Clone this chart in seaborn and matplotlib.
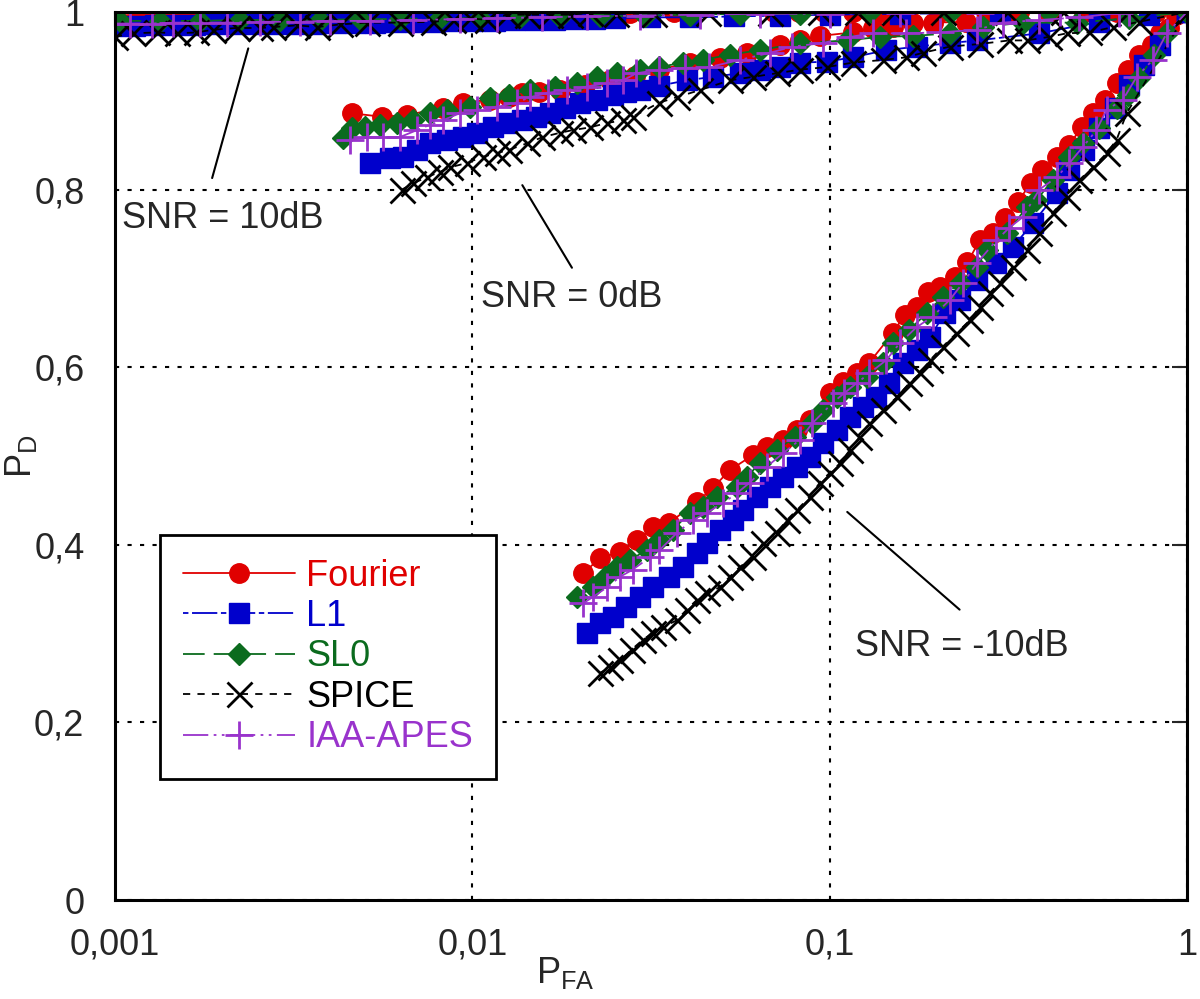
import matplotlib
matplotlib.use("Agg")
import matplotlib.pyplot as plt
from matplotlib.lines import Line2D
import pandas as pd
import seaborn as sns

# ---- data (PFA, PD) ----
# SNR = -10 dB
fourier_m10_pfa = [0.0204, 0.0228, 0.0259, 0.0289, 0.0320, 0.0356, 0.0425, 0.0471, 0.0525, 0.0610,
                   0.0667, 0.0740, 0.0809, 0.0879, 0.100, 0.109, 0.119, 0.129, 0.150, 0.162, 0.175,
                   0.188, 0.203, 0.224, 0.243, 0.263, 0.286, 0.310, 0.336, 0.365, 0.394, 0.432,
                   0.467, 0.507, 0.545, 0.588, 0.635, 0.683, 0.736, 0.796, 0.838, 0.893, 0.933, 1.0]
fourier_m10_pd = [0.368, 0.385, 0.392, 0.405, 0.420, 0.425, 0.448, 0.464, 0.484, 0.501,
                  0.510, 0.518, 0.529, 0.541, 0.571, 0.583, 0.593, 0.605, 0.638, 0.659, 0.668,
                  0.685, 0.690, 0.702, 0.718, 0.743, 0.751, 0.768, 0.786, 0.807, 0.822, 0.837,
                  0.850, 0.870, 0.886, 0.901, 0.920, 0.935, 0.952, 0.963, 0.976, 0.982, 0.997, 1.0]
l1_m10_pfa = [0.0209, 0.0228, 0.0247, 0.0270, 0.0294, 0.0320, 0.0356, 0.0388, 0.0425, 0.0453,
              0.0492, 0.0536, 0.0571, 0.0625, 0.0679, 0.0740, 0.0809, 0.0879, 0.0955, 0.105,
              0.114, 0.124, 0.135, 0.147, 0.160, 0.175, 0.191, 0.210, 0.231, 0.259, 0.293,
              0.325, 0.370, 0.432, 0.469, 0.516, 0.569, 0.627, 0.690, 0.760, 0.838, 1.0]
l1_m10_pd = [0.301, 0.312, 0.319, 0.330, 0.341, 0.352, 0.364, 0.375, 0.391, 0.402,
             0.417, 0.428, 0.439, 0.454, 0.465, 0.476, 0.488, 0.499, 0.515, 0.529,
             0.544, 0.555, 0.566, 0.582, 0.605, 0.619, 0.634, 0.661, 0.676, 0.698, 0.717,
             0.735, 0.762, 0.796, 0.822, 0.845, 0.869, 0.892, 0.918, 0.940, 0.963, 1.0]
sl0_m10_pfa = [0.0196, 0.0217, 0.0235, 0.0254, 0.0276, 0.0308, 0.0334, 0.0364, 0.0406, 0.0442,
               0.0483, 0.0550, 0.0586, 0.0637, 0.0711, 0.0798, 0.0895, 0.0955, 0.105, 0.114,
               0.127, 0.141, 0.150, 0.167, 0.187, 0.207, 0.231, 0.258, 0.275, 0.313, 0.356,
               0.379, 0.421, 0.469, 0.511, 0.569, 0.635, 0.683, 0.736, 0.811, 0.881, 1.0]
sl0_m10_pd = [0.341, 0.352, 0.364, 0.375, 0.383, 0.394, 0.405, 0.417, 0.436, 0.443,
              0.454, 0.465, 0.476, 0.492, 0.507, 0.521, 0.537, 0.552, 0.566, 0.578,
              0.589, 0.605, 0.627, 0.642, 0.661, 0.679, 0.695, 0.713, 0.732, 0.751, 0.780,
              0.788, 0.811, 0.837, 0.852, 0.869, 0.892, 0.907, 0.926, 0.952, 0.976, 1.0]
spice_m10_pfa = [0.0228, 0.0243, 0.0259, 0.0279, 0.0300, 0.0320, 0.0341, 0.0373, 0.0398, 0.0425,
                 0.0453, 0.0492, 0.0525, 0.0560, 0.0610, 0.0650, 0.0711, 0.0759, 0.0809, 0.0879,
                 0.0938, 0.100, 0.107, 0.114, 0.121, 0.129, 0.141, 0.154, 0.167, 0.179, 0.191,
                 0.207, 0.226, 0.247, 0.263, 0.281, 0.299, 0.325, 0.356, 0.386, 0.421, 0.461,
                 0.500, 0.545, 0.596, 0.635, 0.678, 1.0]
spice_m10_pd = [0.256, 0.262, 0.270, 0.282, 0.293, 0.301, 0.307, 0.315, 0.327, 0.338,
                0.346, 0.352, 0.364, 0.375, 0.386, 0.402, 0.413, 0.428, 0.439, 0.454,
                0.470, 0.481, 0.492, 0.507, 0.521, 0.537, 0.552, 0.566, 0.582, 0.593, 0.608,
                0.623, 0.638, 0.653, 0.668, 0.684, 0.695, 0.713, 0.732, 0.751, 0.774, 0.792,
                0.811, 0.825, 0.841, 0.856, 0.886, 1.0]
iaa_m10_pfa = [0.0204, 0.0217, 0.0238, 0.0259, 0.0281, 0.0314, 0.0334, 0.0373, 0.0414, 0.0453,
               0.0502, 0.0550, 0.0597, 0.0667, 0.0740, 0.0824, 0.0895, 0.102, 0.110, 0.119,
               0.129, 0.144, 0.157, 0.175, 0.194, 0.217, 0.236, 0.258, 0.293, 0.318, 0.347,
               0.386, 0.432, 0.469, 0.511, 0.558, 0.596, 0.661, 0.723, 0.802, 0.877, 1.0]
iaa_m10_pd = [0.334, 0.341, 0.352, 0.364, 0.372, 0.386, 0.394, 0.413, 0.428, 0.436,
              0.447, 0.458, 0.470, 0.488, 0.503, 0.518, 0.537, 0.560, 0.571, 0.582,
              0.593, 0.608, 0.627, 0.645, 0.657, 0.676, 0.695, 0.717, 0.743, 0.757, 0.769,
              0.800, 0.814, 0.830, 0.848, 0.867, 0.890, 0.901, 0.927, 0.946, 0.976, 1.0]

# SNR = 0 dB
fourier_0_pfa = [0.00460, 0.00558, 0.00656, 0.00826, 0.00940, 0.0112, 0.0127, 0.0138, 0.0154,
                 0.0176, 0.0207, 0.0243, 0.0285, 0.0334, 0.0406, 0.0492, 0.0586, 0.0724, 0.0824,
                 0.0938, 0.116, 0.132, 0.150, 0.171, 0.194, 0.241, 0.275, 0.325, 0.412, 1.0]
fourier_0_pd = [0.886, 0.882, 0.884, 0.892, 0.898, 0.901, 0.904, 0.909, 0.910,
                0.912, 0.918, 0.923, 0.928, 0.935, 0.943, 0.948, 0.954, 0.963, 0.968,
                0.973, 0.977, 0.982, 0.983, 0.988, 0.988, 0.989, 0.994, 0.998, 1.0, 1.0]
l1_0_pfa = [0.00516, 0.00587, 0.00639, 0.00700, 0.00761, 0.00849, 0.00940, 0.0103, 0.0114,
            0.0125, 0.0138, 0.0151, 0.0165, 0.0182, 0.0200, 0.0223, 0.0247, 0.0270, 0.0294,
            0.0334, 0.0398, 0.0471, 0.0560, 0.0637, 0.0724, 0.0824, 0.0982, 0.116, 0.144,
            0.175, 0.217, 0.259, 0.386, 0.569, 0.785, 1.0]
l1_0_pd = [0.830, 0.836, 0.837, 0.845, 0.852, 0.856, 0.859, 0.864, 0.870,
           0.875, 0.878, 0.882, 0.886, 0.892, 0.898, 0.901, 0.907, 0.910, 0.912,
           0.917, 0.923, 0.927, 0.931, 0.935, 0.938, 0.943, 0.944, 0.949, 0.957,
           0.961, 0.965, 0.968, 0.976, 0.989, 0.997, 1.0]
sl0_0_pfa = [0.00435, 0.00460, 0.00500, 0.00551, 0.00615, 0.00682, 0.00761, 0.00849, 0.00984,
             0.0112, 0.0127, 0.0145, 0.0170, 0.0196, 0.0223, 0.0254, 0.0294, 0.0334, 0.0388,
             0.0442, 0.0525, 0.0637, 0.0824, 0.112, 0.138, 0.171, 0.217, 0.268, 0.347, 0.491,
             0.690, 1.0]
sl0_0_pd = [0.858, 0.869, 0.870, 0.873, 0.875, 0.878, 0.886, 0.890, 0.893,
            0.903, 0.907, 0.912, 0.916, 0.920, 0.927, 0.931, 0.935, 0.938, 0.943,
            0.946, 0.952, 0.957, 0.965, 0.968, 0.972, 0.973, 0.976, 0.983, 0.988, 0.988,
            0.993, 1.0]
spice_0_pfa = [0.00635, 0.00682, 0.00747, 0.00811, 0.00865, 0.00966, 0.0107, 0.0117, 0.0127,
               0.0142, 0.0157, 0.0176, 0.0191, 0.0213, 0.0238, 0.0264, 0.0281, 0.0334, 0.0373,
               0.0433, 0.0525, 0.0610, 0.0711, 0.0824, 0.0982, 0.116, 0.141, 0.164, 0.182,
               0.217, 0.263, 0.318, 0.356, 0.412, 0.461, 0.533, 0.620, 0.736, 1.0]
spice_0_pd = [0.800, 0.807, 0.814, 0.820, 0.825, 0.830, 0.837, 0.841, 0.845,
              0.852, 0.859, 0.864, 0.867, 0.870, 0.875, 0.878, 0.882, 0.898, 0.904,
              0.912, 0.923, 0.927, 0.931, 0.935, 0.938, 0.943, 0.946, 0.949, 0.954,
              0.961, 0.964, 0.968, 0.968, 0.972, 0.976, 0.977, 0.983, 0.989, 1.0]
iaa_0_pfa = [0.00454, 0.00507, 0.00562, 0.00626, 0.00700, 0.00761, 0.00826, 0.00923, 0.0103,
             0.0117, 0.0133, 0.0145, 0.0163, 0.0184, 0.0209, 0.0238, 0.0264, 0.0288, 0.0334,
             0.0393, 0.0461, 0.0560, 0.0679, 0.0787, 0.0955, 0.114, 0.132, 0.164, 0.203,
             0.258, 0.305, 0.386, 0.500, 0.647, 1.0]
iaa_0_pd = [0.856, 0.859, 0.859, 0.859, 0.867, 0.873, 0.878, 0.886, 0.890,
            0.893, 0.898, 0.904, 0.909, 0.912, 0.916, 0.920, 0.923, 0.931, 0.935,
            0.937, 0.938, 0.946, 0.954, 0.961, 0.965, 0.972, 0.976, 0.976, 0.977,
            0.980, 0.988, 0.991, 0.994, 0.999, 1.0]

# SNR = 10 dB
fourier_10_pfa = [0.00100, 0.00117, 0.00152, 0.00191, 0.00255, 0.00329, 0.00440, 0.00587, 0.00811,
                  0.0112, 0.0155, 0.0194, 0.0276, 0.0367, 0.0550, 0.0697, 0.0819, 0.0962, 0.116,
                  0.140, 0.203, 0.273, 0.338, 0.516, 0.639, 0.817, 1.0]
fourier_10_pd = [0.996, 0.997, 0.997, 0.997, 0.997, 0.998, 0.998, 0.998, 0.998,
                 0.999, 0.999, 0.999, 0.999, 1.0, 1.0, 1.0, 1.0, 1.0, 1.0,
                 1.0, 1.0, 1.0, 1.0, 1.0, 1.0, 1.0, 1.0]
l1_10_pfa = [0.00100, 0.00114, 0.00129, 0.00147, 0.00167, 0.00191, 0.00217, 0.00247, 0.00281,
             0.00319, 0.00363, 0.00412, 0.00469, 0.00533, 0.00607, 0.00690, 0.00785, 0.00893,
             0.0102, 0.0116, 0.0132, 0.0150, 0.0170, 0.0194, 0.0220, 0.0251, 0.0314, 0.0406,
             0.0541, 0.0724, 0.100, 0.157, 0.299, 0.569, 1.0]
l1_10_pd = [0.984, 0.984, 0.985, 0.985, 0.985, 0.986, 0.986, 0.986, 0.987,
            0.987, 0.987, 0.988, 0.988, 0.988, 0.989, 0.989, 0.989, 0.990,
            0.990, 0.990, 0.991, 0.991, 0.991, 0.992, 0.992, 0.993, 0.994, 0.994,
            0.995, 0.996, 0.997, 0.998, 0.999, 1.0, 1.0]
sl0_10_pfa = [0.00103, 0.00134, 0.00173, 0.00224, 0.00290, 0.00374, 0.00484, 0.00626, 0.00811,
              0.0105, 0.0136, 0.0176, 0.0228, 0.0304, 0.0406, 0.0560, 0.0824, 0.129, 0.217,
              0.412, 1.0]
sl0_10_pd = [0.990, 0.990, 0.990, 0.991, 0.991, 0.991, 0.992, 0.992, 0.993,
             0.993, 0.994, 0.994, 0.995, 0.996, 0.997, 0.998, 0.998, 0.999, 0.999,
             1.0, 1.0]
spice_10_pfa = [0.00100, 0.00112, 0.00131, 0.00149, 0.00169, 0.00188, 0.00219, 0.00255, 0.00277,
                0.00323, 0.00367, 0.00426, 0.00507, 0.00626, 0.00776, 0.00882, 0.00984, 0.0110,
                0.0125, 0.0142, 0.0165, 0.0188, 0.0213, 0.0252, 0.0322, 0.0456, 0.0679, 0.0938,
                0.119, 0.151, 0.207, 0.313, 0.449, 1.0]
spice_10_pd = [0.972, 0.976, 0.977, 0.976, 0.977, 0.980, 0.982, 0.982, 0.983,
               0.985, 0.983, 0.986, 0.988, 0.988, 0.989, 0.991, 0.993, 0.991,
               0.997, 0.997, 0.997, 0.997, 0.999, 0.998, 0.998, 0.999, 0.999, 1.0,
               1.0, 1.0, 1.0, 1.0, 1.0, 1.0]
iaa_10_pfa = [0.00100, 0.00110, 0.00127, 0.00145, 0.00173, 0.00206, 0.00255, 0.00329, 0.00399,
              0.00516, 0.00682, 0.00923, 0.0117, 0.0157, 0.0209, 0.0294, 0.0433, 0.0637, 0.100,
              0.157, 0.263, 0.440, 0.690, 1.0]
iaa_10_pd = [0.987, 0.987, 0.987, 0.988, 0.988, 0.988, 0.989, 0.989, 0.990,
             0.990, 0.991, 0.992, 0.993, 0.994, 0.995, 0.996, 0.997, 0.998, 0.998,
             0.999, 0.999, 1.0, 1.0, 1.0]

methods = ["Fourier", "L1", "SL0", "SPICE", "IAA-APES"]
curves = {
    "Fourier": [(fourier_m10_pfa, fourier_m10_pd), (fourier_0_pfa, fourier_0_pd), (fourier_10_pfa, fourier_10_pd)],
    "L1": [(l1_m10_pfa, l1_m10_pd), (l1_0_pfa, l1_0_pd), (l1_10_pfa, l1_10_pd)],
    "SL0": [(sl0_m10_pfa, sl0_m10_pd), (sl0_0_pfa, sl0_0_pd), (sl0_10_pfa, sl0_10_pd)],
    "SPICE": [(spice_m10_pfa, spice_m10_pd), (spice_0_pfa, spice_0_pd), (spice_10_pfa, spice_10_pd)],
    "IAA-APES": [(iaa_m10_pfa, iaa_m10_pd), (iaa_0_pfa, iaa_0_pd), (iaa_10_pfa, iaa_10_pd)],
}
snr_names = ["-10dB", "0dB", "10dB"]

# styles
styles = {
    "Fourier": dict(color="#E00000", marker="o", ms=14, ls="-", mew=1.0),
    "L1": dict(color="#0000CC", marker="s", ms=14, ls=(0, (3, 2, 14, 2)), mew=1.0),
    "SL0": dict(color="#0B6B1E", marker="D", ms=11, ls=(0, (12, 5)), mew=1.0),
    "SPICE": dict(color="black", marker="x", ms=18, ls=(0, (4, 4)), mew=2.0),
    "IAA-APES": dict(color="#9933CC", marker="+", ms=20, ls=(0, (14, 3, 1.5, 3, 1.5, 3)), mew=2.0),
}

sns.set_style("white")
plt.rcParams["font.family"] = ["Liberation Sans", "DejaVu Sans"]
plt.rcParams["mathtext.fontset"] = "custom"
plt.rcParams["mathtext.rm"] = "Liberation Sans"

FS = 26

fig = plt.figure(figsize=(12, 9.99), dpi=100)
ax = fig.add_axes([115 / 1200, 99 / 999, 1072 / 1200, 888 / 999])

for m in methods:
    rows = []
    for snr, (xs, ys) in zip(snr_names, curves[m]):
        rows.append(pd.DataFrame({"pfa": xs, "pd": ys, "snr": snr}))
    df = pd.concat(rows, ignore_index=True)
    st = styles[m]
    sns.lineplot(data=df, x="pfa", y="pd", units="snr", estimator=None, sort=False, ax=ax,
                 color=st["color"], linestyle=st["ls"], linewidth=1.3,
                 marker=st["marker"], markersize=st["ms"],
                 markeredgecolor=st["color"], markerfacecolor=st["color"],
                 markeredgewidth=st["mew"], legend=False)

ax.set_xscale("log")
ax.set_xlim(0.001, 1)
ax.set_ylim(0, 1)
ax.set_xticks([0.001, 0.01, 0.1, 1])
ax.set_xticklabels(["0,001", "0,01", "0,1", "1"])
ax.set_yticks([0, 0.2, 0.4, 0.6, 0.8, 1])
ax.set_yticklabels(["0", "0,2", "0,4", "0,6", "0,8", "1"])
ax.minorticks_off()
ax.tick_params(direction="in", length=11, width=1.5, top=True, right=True,
               labelsize=FS, pad=20)
ax.tick_params(axis="y", pad=22)
ax.grid(True, color="black", linestyle=(0, (2, 4)), linewidth=1.5)
for sp in ax.spines.values():
    sp.set_color("black")
    sp.set_linewidth(2.2)

ax.set_xlabel(r"P$_{\mathregular{FA}}$", fontsize=FS)
ax.set_ylabel(r"P$_{\mathregular{D}}$", fontsize=FS)
ax.xaxis.set_label_coords(0.42, -0.062)
ax.yaxis.set_label_coords(-0.071, 0.5)

# annotations
notes = [("SNR = 10dB", (0.00200, 0.768), (0.00236, 0.959), (0.00187, 0.813)),
         ("SNR = 0dB", (0.0190, 0.679), (0.0138, 0.805), (0.0190, 0.712)),
         ("SNR = -10dB", (0.234, 0.286), (0.112, 0.437), (0.231, 0.327))]
for txt, pos, a, b in notes:
    ax.text(pos[0], pos[1], txt, fontsize=FS, ha="center", va="center")
    ax.annotate("", xy=a, xytext=b, arrowprops=dict(arrowstyle="-", color="black", lw=1.5,
                                                   shrinkA=0, shrinkB=0))

handles = [Line2D([], [], color=styles[m]["color"], linestyle=styles[m]["ls"], linewidth=1.3,
                  marker=styles[m]["marker"], markersize=styles[m]["ms"],
                  markeredgewidth=styles[m]["mew"]) for m in methods]
leg = ax.legend(handles, methods, loc="upper left", bbox_to_anchor=(0.042, 0.411),
                borderaxespad=0, fontsize=FS, frameon=True, fancybox=False, framealpha=1,
                edgecolor="black", handlelength=3.1, handletextpad=0.3, labelspacing=0.15,
                borderpad=0.65, numpoints=1)
leg.get_frame().set_linewidth(2)
for t, m in zip(leg.get_texts(), methods):
    t.set_color(styles[m]["color"])

fig.savefig("out.png", dpi=100)
